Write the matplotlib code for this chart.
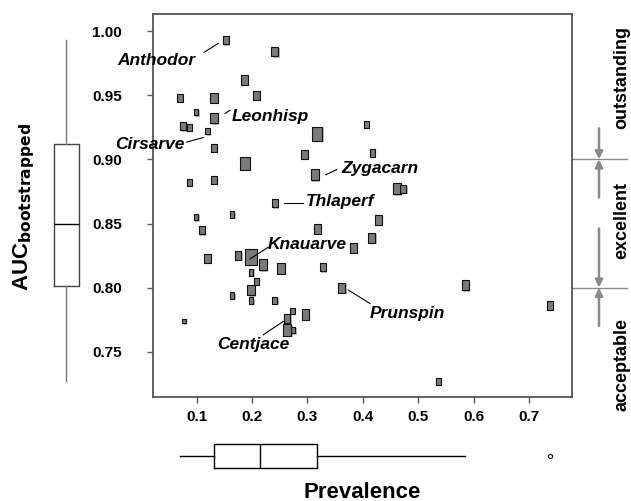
import numpy as np
import matplotlib
matplotlib.use("Agg")
import matplotlib.pyplot as plt
from matplotlib.transforms import blended_transform_factory
import matplotlib.patheffects as pe

plt.rcParams['font.family'] = ['Liberation Sans', 'DejaVu Sans']

# ---------------- data ----------------
prevalence = [0.153, 0.241, 0.186, 0.208, 0.070, 0.131, 0.099, 0.131, 0.076, 0.087,
              0.120, 0.318, 0.406, 0.131, 0.295, 0.417, 0.187, 0.313, 0.087, 0.131,
              0.241, 0.461, 0.473, 0.099, 0.164, 0.109, 0.318, 0.428, 0.120, 0.175,
              0.198, 0.219, 0.252, 0.328, 0.383, 0.416, 0.198, 0.208, 0.198, 0.164,
              0.198, 0.241, 0.362, 0.077, 0.273, 0.263, 0.296, 0.263, 0.274, 0.585,
              0.738, 0.537]
auc = [0.993, 0.984, 0.962, 0.950, 0.948, 0.948, 0.937, 0.932, 0.926, 0.925,
       0.922, 0.920, 0.927, 0.909, 0.904, 0.905, 0.897, 0.888, 0.882, 0.884,
       0.866, 0.877, 0.877, 0.855, 0.857, 0.845, 0.846, 0.853, 0.823, 0.825,
       0.824, 0.818, 0.815, 0.816, 0.831, 0.839, 0.812, 0.805, 0.798, 0.794,
       0.790, 0.790, 0.800, 0.774, 0.782, 0.776, 0.779, 0.767, 0.767, 0.802,
       0.786, 0.727]
weight = [1.8, 2.0, 2.2, 2.0, 1.6, 2.2, 1.4, 2.2, 1.8, 1.4,
          1.4, 3.0, 1.4, 1.6, 2.0, 1.6, 2.8, 2.4, 1.4, 1.8,
          1.8, 2.4, 1.8, 1.4, 1.4, 1.8, 2.2, 2.2, 2.0, 1.8,
          3.4, 2.4, 2.2, 1.8, 2.2, 2.2, 1.4, 1.4, 2.2, 1.4,
          1.4, 1.4, 2.2, 1.0, 1.4, 2.0, 2.2, 2.6, 1.4, 2.2,
          1.8, 1.4]
species = ['Anthodor', 'Leonhisp', 'Cirsarve', 'Zygacarn', 'Thlaperf',
           'Knauarve', 'Prunspin', 'Centjace']
species_idx = [0, 7, 10, 17, 20, 30, 42, 47]
xticks = [0.1, 0.2, 0.3, 0.4, 0.5, 0.6, 0.7]
yticks = [0.75, 0.80, 0.85, 0.90, 0.95, 1.00]
class_bounds = [0.80, 0.90]
class_names = ['acceptable', 'excellent', 'outstanding']

# ---------------- layout ----------------
W, H = 631, 501
fig = plt.figure(figsize=(W / 100, H / 100), dpi=100)

def fx(px):
    return px / W

def fy(py):
    return 1 - py / H

L, R, T, B = 153, 572, 14, 397
ax = fig.add_axes([fx(L), fy(B), fx(R) - fx(L), fy(T) - fy(B)])
XLIM = (0.0211, 0.7776)
YLIM = (0.7148, 1.0133)
ax.set_xlim(*XLIM)
ax.set_ylim(*YLIM)

spine_col = '#555555'
for s in ax.spines.values():
    s.set_color(spine_col)
    s.set_linewidth(1.3)
ax.set_xticks(xticks)
ax.set_xticklabels(['%.1f' % v for v in xticks])
ax.set_yticks(yticks)
ax.set_yticklabels(['%.2f' % v for v in yticks])
ax.tick_params(axis='y', length=4.3, width=1.0, color=spine_col, pad=18,
               labelsize=11)
ax.tick_params(axis='x', length=4.3, width=1.0, color=spine_col, pad=5,
               labelsize=11)
for lab in ax.get_xticklabels() + ax.get_yticklabels():
    lab.set_fontweight('bold')

# rectangles
hw = 0.357
rect = [(-hw, -0.5), (hw, -0.5), (hw, 0.5), (-hw, 0.5), (-hw, -0.5)]
sizes = [(3.36 * w) ** 2 for w in weight]
sc = ax.scatter(prevalence, auc, s=sizes, marker=rect, facecolor='#7a7a7a',
                edgecolor='#111111', linewidths=0.8, zorder=3)
sc.set_path_effects([pe.SimplePatchShadow(offset=(1.0, -1.0),
                                          shadow_rgbFace='#bdbdbd', alpha=1.0),
                     pe.Normal()])

# species labels: (text x, text y, ha, line x0, y0, x1, y1)
lab_layout = {
    'Anthodor': (0.0987, 0.9768, 'right', 0.1132, 0.9834, 0.1390, 0.9904),
    'Leonhisp': (0.1632, 0.9336, 'left', 0.1511, 0.9357, 0.1601, 0.9383),
    'Cirsarve': (0.0789, 0.9117, 'right', 0.0819, 0.9135, 0.1119, 0.9170),
    'Zygacarn': (0.3617, 0.8927, 'left', 0.3329, 0.8880, 0.3527, 0.8920),
    'Thlaperf': (0.2968, 0.8674, 'left', 0.2581, 0.8662, 0.2924, 0.8662),
    'Knauarve': (0.2282, 0.8334, 'left', 0.1962, 0.8224, 0.2292, 0.8315),
    'Prunspin': (0.4128, 0.7795, 'left', 0.3737, 0.7982, 0.4128, 0.7877),
    'Centjace': (0.2022, 0.7555, 'center', 0.2202, 0.7633, 0.2563, 0.7737),
}
for name, i in zip(species, species_idx):
    tx, ty, ha, x0, y0, x1, y1 = lab_layout[name]
    ax.plot([x0, x1], [y0, y1], color='black', lw=0.8, zorder=4)
    ax.text(tx, ty, name, ha=ha, va='center', fontsize=12.5,
            fontweight='bold', fontstyle='italic', zorder=5, clip_on=False)

# right-hand classification marks
tr = blended_transform_factory(ax.transAxes, ax.transData)
grey = '#8a8a8a'
x_line_end = (627 - L) / (R - L)
x_arrow = (599 - L) / (R - L)
for b in class_bounds:
    ax.plot([1.0, x_line_end], [b, b], color=grey, lw=1.0, transform=tr,
            clip_on=False)
arrow_tails = [(0.9242, 0.90), (0.8703, 0.90), (0.8461, 0.80), (0.7703, 0.80)]
for y0, y1 in arrow_tails:
    ax.annotate('', xy=(x_arrow, y1), xytext=(x_arrow, y0), xycoords=tr,
                textcoords=tr,
                arrowprops=dict(arrowstyle='-|>,head_length=0.45,head_width=0.22',
                                color=grey, lw=1.8, shrinkA=0, shrinkB=0),
                annotation_clip=False)
x_txt = (622 - L) / (R - L)
class_y = [0.740, 0.852, 0.964]
for name, yy in zip(class_names, class_y):
    ax.text(x_txt, yy, name, rotation=90, ha='center', va='center',
            fontsize=13, fontweight='bold', transform=tr, clip_on=False)

# left boxplot (AUC)
axl = fig.add_axes([fx(41), fy(B), fx(91) - fx(41), fy(T) - fy(B)])
axl.set_ylim(*YLIM)
axl.set_xlim(0.5, 1.5)
axl.boxplot(auc, positions=[1], widths=0.5, whis=1.5, showcaps=False,
            showfliers=True,
            boxprops=dict(color='#444444', lw=1.0),
            whiskerprops=dict(color='#777777', lw=1.0),
            medianprops=dict(color='black', lw=1.0),
            flierprops=dict(marker='o', markersize=3, markerfacecolor='none'))
axl.axis('off')

# bottom boxplot (prevalence)
axb = fig.add_axes([fx(L), fy(472), fx(R) - fx(L), fy(440) - fy(472)])
axb.set_xlim(*XLIM)
axb.set_ylim(0.5, 1.5)
axb.boxplot(prevalence, positions=[1], vert=False, widths=0.78, whis=1.5,
            showcaps=False,
            boxprops=dict(color='black', lw=1.0),
            whiskerprops=dict(color='black', lw=1.0),
            medianprops=dict(color='black', lw=1.0),
            flierprops=dict(marker='o', markersize=3, markerfacecolor='none',
                            markeredgecolor='black', markeredgewidth=0.8))
axb.axis('off')

# axis titles
fig.text(fx(362), fy(492), 'Prevalence', ha='center', va='center',
         fontsize=16, fontweight='bold')
fig.text(fx(24), fy(207), r'AUC$_{\mathbf{bootstrapped}}$', rotation=90,
         ha='center', va='center', fontsize=16, fontweight='bold')

fig.savefig('out.png', dpi=100)
